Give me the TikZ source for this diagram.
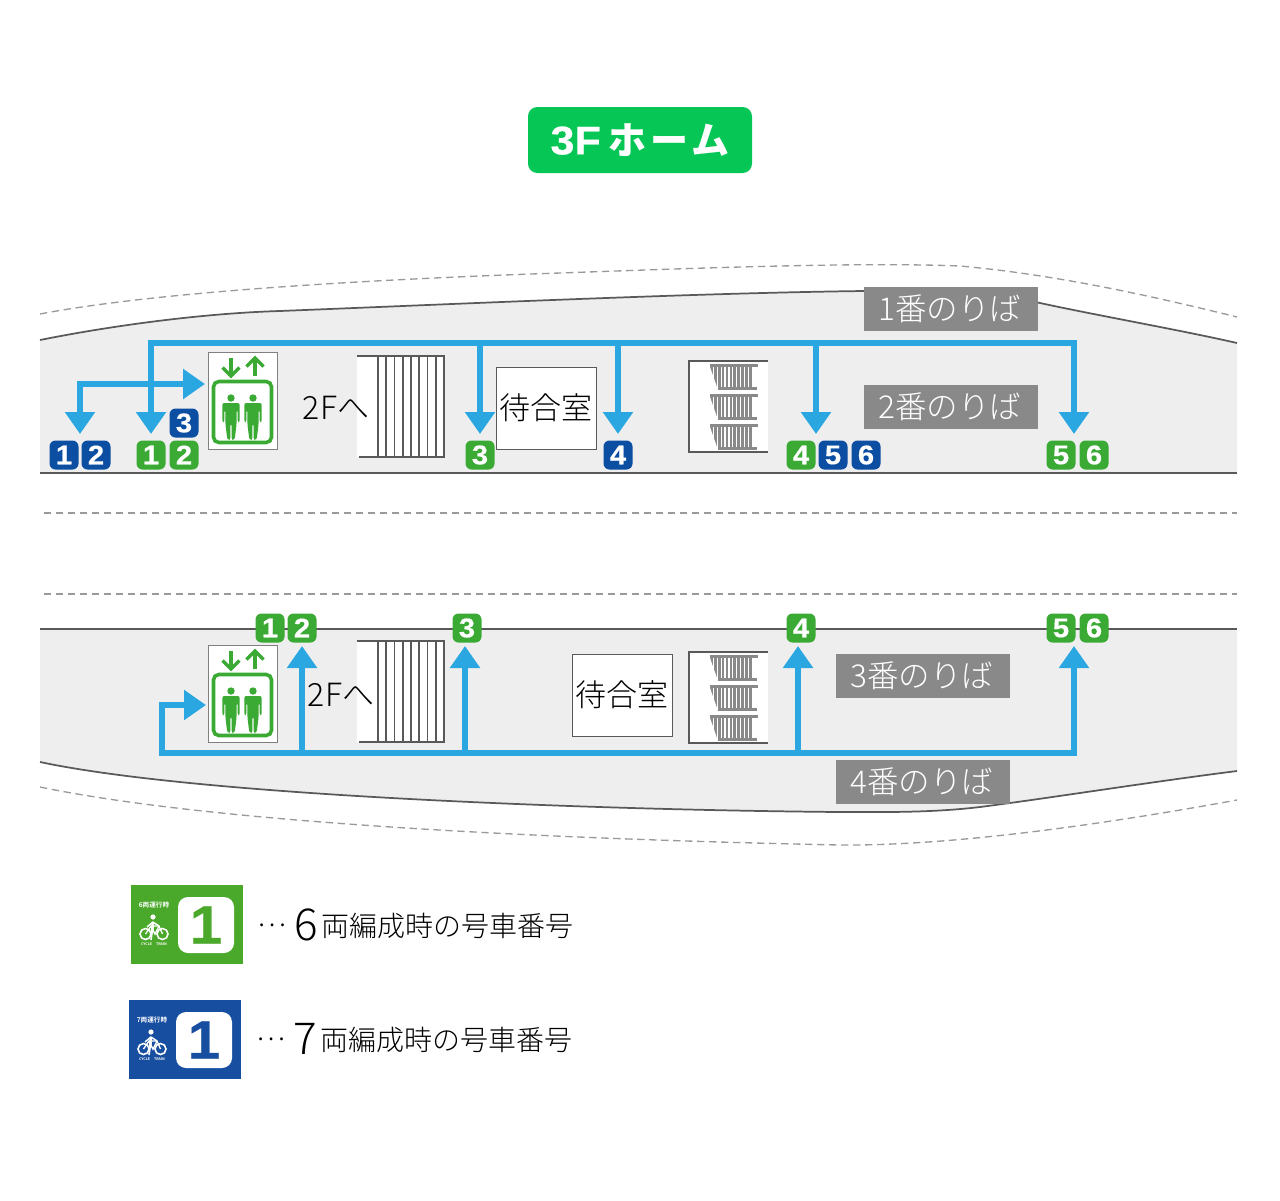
\documentclass[tikz,border=0pt]{standalone}
\usepackage{fontspec}
\setmainfont{Noto Sans CJK JP Light}[BoldFont={Noto Sans CJK JP Bold}]
\newfontfamily\jpbold{Noto Sans CJK JP Bold}
\newfontfamily\jpblack{Noto Sans CJK JP Black}
\newfontfamily\numfont[FakeBold=0.5,FakeStretch=1.08]{Liberation Sans Bold}
\usetikzlibrary{arrows.meta,positioning,calc}
\definecolor{bandgray}{HTML}{EEEEEE}
\definecolor{labelgray}{HTML}{898989}
\definecolor{edgegray}{HTML}{595959}
\definecolor{dashgray}{HTML}{9A9A9A}
\definecolor{routeblue}{HTML}{2AA7E1}
\definecolor{carblue}{HTML}{0B4EA2}
\definecolor{cargreen}{HTML}{3AAA35}
\definecolor{titlegreen}{HTML}{06C755}
\definecolor{keygreen}{HTML}{4AA82A}
\definecolor{keyblue}{HTML}{184E9F}
\newcommand{\pxsize}[1]{\fontsize{\fpeval{#1*0.75}pt}{\fpeval{#1*0.9}pt}\selectfont}
\tikzset{
    badge/.style={rectangle, rounded corners=4.5pt, minimum width=29*0.75pt, minimum height=29*0.75pt, inner sep=0pt, text=white, font=\numfont\pxsize{27}},
    greencar/.style={badge, fill=cargreen},
    bluecar/.style={badge, fill=carblue},
    platlabel/.style={rectangle, fill=labelgray, minimum width=174*0.75pt, minimum height=44*0.75pt, inner sep=0pt, text=white, font=\pxsize{31.5}},
    roombox/.style={rectangle, draw=edgegray, line width=0.5pt, fill=white, minimum width=100*0.75pt, inner sep=0pt, text=black, font=\pxsize{31}},
    route/.style={routeblue, line width=5pt},
    routearrow/.style={route, -{Triangle[width=29*0.75pt, length=22*0.75pt]}},
    routeboth/.style={route, {Triangle[width=29*0.75pt, length=22*0.75pt]}-{Triangle[width=29*0.75pt, length=22*0.75pt]}},
    dashline/.style={dashgray, line width=1pt, dash pattern=on 5.5pt off 3.5pt},
    edgeline/.style={edgegray, line width=1.3pt},
    plaintext/.style={inner sep=0pt, text=black},
    liftman/.pic={
        \fill[cargreen] (0,-20) circle (3.7);
        \fill[cargreen, rounded corners=1.5] (-8.7,-15) -- (8.7,-15) -- (8.7,4) -- (6.6,4) -- (6.6,-8) -- (5.6,-8) -- (5.6,6) -- (3.6,22) -- (0.7,22) -- (0.7,6) -- (-0.7,6) -- (-0.7,22) -- (-3.6,22) -- (-5.6,6) -- (-5.6,-8) -- (-6.6,-8) -- (-6.6,4) -- (-8.7,4) -- cycle;
    },
    liftsign/.pic={
        \draw[gray, line width=0.6pt, fill=white] (0,0) rectangle (69,97);
        \draw[cargreen, line width=2.7pt, rounded corners=4pt] (5.5,29.5) rectangle (63.5,90.5);
        \draw[cargreen, line width=2.6pt] (23,6) -- (23,24);
        \draw[cargreen, line width=2.6pt] (14.5,15.5) -- (23,24) -- (31.5,15.5);
        \draw[cargreen, line width=2.6pt] (47,24) -- (47,6);
        \draw[cargreen, line width=2.6pt] (38.5,14.5) -- (47,6) -- (55.5,14.5);
        \pic at (23,66) {liftman};
        \pic at (45,66) {liftman};
    },
    stairsign/.pic={
        \fill[white] (0,0) rectangle (88,101);
        \draw[edgegray, line width=1.2pt] (0,0) -- (88,0);
        \draw[edgegray, line width=1.2pt] (2,101) -- (88,101);
        \foreach \k in {0,...,8}
            \draw[edgegray, line width=1.2pt] ({21+\k*8.25},0) -- ({21+\k*8.25},101);
    },
    escstep/.pic={
        \fill[labelgray] (21,0) rectangle (69,3);
        \fill[labelgray] (29,23) rectangle (68,26);
        \foreach \k in {0,...,10}
            \fill[labelgray] ({21+\k*3.9},3) rectangle ++(2.7,20);
        \fill[white] (20,3) -- (21,3) -- (28,23) -- (20,23) -- cycle;
    },
    escsign/.pic={
        \fill[white] (0,0) rectangle (79,91);
        \draw[edgegray, line width=1.1pt] (79,0) -- (0,0) -- (0,91) -- (79,91);
        \foreach \s in {3,33,63}
            \pic at (0,\s) {escstep};
    },
    cyclemark/.pic={
        \draw[white, line width=1.2pt] (-8.5,0) circle (5.5);
        \draw[white, line width=1.2pt] (8.5,0) circle (5.5);
        \draw[white, line width=1pt] (-8.5,0) -- (-3,-8) -- (5,-8) -- (8.5,0);
        \draw[white, line width=1pt] (-3,-8) -- (1,0) -- (5,-8);
        \fill[white] (-1,-17) circle (2.6);
        \draw[white, line width=2pt] (-1,-12) -- (-2,-1);
        \draw[white, line width=1.1pt] (-1,-12) -- (-7,-7);
        \draw[white, line width=1.1pt] (-1,-12) -- (5,-8);
        \draw[white, line width=1.2pt] (-2,-1) -- (-3,6);
    },
    keycard/.pic={
        \fill[white, rounded corners=7.5pt] (47,12) rectangle (103,68);
        \node[font=\numfont\pxsize{54}, text=\keycol, inner sep=0pt] at (75,40) {1};
        \node[font=\jpbold\pxsize{6.6}, text=white, inner sep=0pt] at (23,20) {\keyname};
        \pic at (23,49) {cyclemark};
        \node[font=\jpbold\pxsize{3.6}, text=white, inner sep=0pt] at (23,59) {CYCLE\hspace{3pt}TRAIN};
    }
}
\begin{document}
\begin{tikzpicture}[x=0.75pt, y=-0.75pt]
\useasboundingbox (0,0) rectangle (1280,1200);
\fill[white] (0,0) rectangle (1280,1200);

% title
\node[rectangle, fill=titlegreen, rounded corners=7pt, minimum width=224*0.75pt, minimum height=66*0.75pt, text=white, font=\jpblack\pxsize{38}] (title) at (640,140) {{\numfont\pxsize{40}3F}\hspace{6pt}ホ\hspace{2.5pt}ー\hspace{2.5pt}ム};

% platform outlines
\fill[bandgray] (40,340) .. controls (120,324) and (210,313) .. (280,311) .. controls (480,303) and (700,293) .. (864,291) .. controls (930,290) and (990,292) .. (1040,303) .. controls (1100,316) and (1180,330) .. (1237,343) -- (1237,473) -- (40,473) -- cycle;
\draw[edgeline] (40,340) .. controls (120,324) and (210,313) .. (280,311) .. controls (480,303) and (700,293) .. (864,291) .. controls (930,290) and (990,292) .. (1040,303) .. controls (1100,316) and (1180,330) .. (1237,343);
\draw[edgeline] (40,473) -- (1237,473);
\fill[bandgray] (40,629) -- (1237,629) -- (1237,771) .. controls (1150,782) and (1050,798) .. (980,807) .. controls (930,813) and (880,812) .. (840,812) .. controls (600,810) and (200,796) .. (40,762) -- cycle;
\draw[edgeline] (40,629) -- (1237,629);
\draw[edgeline] (1237,771) .. controls (1150,782) and (1050,798) .. (980,807) .. controls (930,813) and (880,812) .. (840,812) .. controls (600,810) and (200,796) .. (40,762);
\draw[dashline] (40,314) .. controls (150,293) and (350,280) .. (560,273) .. controls (700,268) and (860,262) .. (960,266) .. controls (1060,275) and (1160,298) .. (1237,317);
\draw[dashline] (40,787) .. controls (200,820) and (500,838) .. (840,845) .. controls (950,846) and (1100,825) .. (1237,800);
\draw[dashline] (44,513) -- (1237,513);
\draw[dashline] (44,594) -- (1237,594);

% signs, upper platform
\pic at (208,352) {liftsign};
\pic at (357,356) {stairsign};
\pic at (689,361) {escsign};
\node[roombox, minimum height=82*0.75pt] (roomA) at (546,408) {\raisebox{-1.2pt}{待合室}};
\node[plaintext, font=\pxsize{32}] (stairA) at (336,408) {2Fへ};

% signs, lower platform
\pic at (208,645) {liftsign};
\pic at (357,641) {stairsign};
\pic at (689,652) {escsign};
\node[roombox, minimum height=82*0.75pt] (roomB) at (622,695) {待合室};
\node[plaintext, font=\pxsize{32}] (stairB) at (341,695) {2Fへ};

% platform names
\node[platlabel] (plat1) at (951,309) {\raisebox{-0.7pt}{\hspace{-2pt}1番のりば}};
\node[platlabel] (plat2) at (951,407) {\raisebox{-0.7pt}{\hspace{-2pt}2番のりば}};
\node[platlabel] (plat3) at (923,676) {\raisebox{-0.7pt}{\hspace{-2pt}3番のりば}};
\node[platlabel] (plat4) at (923,782) {\raisebox{-0.7pt}{\hspace{-2pt}4番のりば}};

% car numbers, upper platform
\node[bluecar] (uB1) at (64,455) {1};
\node[bluecar] (uB2) at (96,455) {2};
\node[greencar] (uG1) at (151,455) {1};
\node[greencar] (uG2) at (184,455) {2};
\node[bluecar] (uB3) at (184,423) {3};
\node[greencar] (uG3) at (480,455) {3};
\node[bluecar] (uB4) at (618,455) {4};
\node[greencar] (uG4) at (801,455) {4};
\node[bluecar] (uB5) at (833,455) {5};
\node[bluecar] (uB6) at (866,455) {6};
\node[greencar] (uG5) at (1061,455) {5};
\node[greencar] (uG6) at (1094,455) {6};

% car numbers, lower platform
\node[greencar] (lG1) at (270,628) {1};
\node[greencar] (lG2) at (302,628) {2};
\node[greencar] (lG3) at (467,628) {3};
\node[greencar] (lG4) at (801,628) {4};
\node[greencar] (lG5) at (1061,628) {5};
\node[greencar] (lG6) at (1094,628) {6};

% routes, upper platform
\coordinate (uTopL) at (151,343);
\coordinate (uTopR) at (1074,343);
\coordinate (uEnd1) at (151,434);
\coordinate (uEnd2) at (480,434);
\coordinate (uEnd3) at (618,434);
\coordinate (uEnd4) at (816,434);
\coordinate (uEnd5) at (1074,434);
\coordinate (uLiftL) at (80,384);
\coordinate (uLiftEnd) at (205,384);
\coordinate (uEnd0) at (80,434);
\draw[routeboth] (uEnd1) -- (uTopL) -- (uTopR) -- (uEnd5);
\draw[routearrow] (uEnd2 |- uTopL) -- (uEnd2);
\draw[routearrow] (uEnd3 |- uTopL) -- (uEnd3);
\draw[routearrow] (uEnd4 |- uTopL) -- (uEnd4);
\draw[routeboth] (uEnd0) -- (uLiftL) -- (uLiftEnd);

% routes, lower platform
\coordinate (lBotL) at (162,753);
\coordinate (lBotR) at (1074,753);
\coordinate (lCorner) at (162,705);
\coordinate (lLiftEnd) at (206,705);
\coordinate (lEnd1) at (302,646);
\coordinate (lEnd2) at (465,646);
\coordinate (lEnd3) at (798,646);
\coordinate (lEnd4) at (1074,646);
\draw[routeboth] (lLiftEnd) -- (lCorner) -- (lBotL) -- (lBotR) -- (lEnd4);
\draw[routearrow] (lEnd1 |- lBotL) -- (lEnd1);
\draw[routearrow] (lEnd2 |- lBotL) -- (lEnd2);
\draw[routearrow] (lEnd3 |- lBotL) -- (lEnd3);

% key
\fill[keygreen] (131,885) rectangle (243,964);
\fill[keyblue] (129,1000) rectangle (241,1079);
\def\keycol{keygreen}\def\keyname{6両運行時}
\pic at (131,885) {keycard};
\def\keycol{keyblue}\def\keyname{7両運行時}
\pic at (129,1000) {keycard};
\node[plaintext, anchor=base west, font=\pxsize{28}] (key6) at (257,936) {\raisebox{7.5pt}{…}\hspace{6pt}\raisebox{-3pt}{\pxsize{44}6}\hspace{3pt}両編成時の号車番号};
\node[plaintext, anchor=base west, font=\pxsize{28}] (key7) at (256,1050) {\raisebox{7.5pt}{…}\hspace{6pt}\raisebox{-3pt}{\pxsize{44}7}\hspace{3pt}両編成時の号車番号};
\end{tikzpicture}
\end{document}
